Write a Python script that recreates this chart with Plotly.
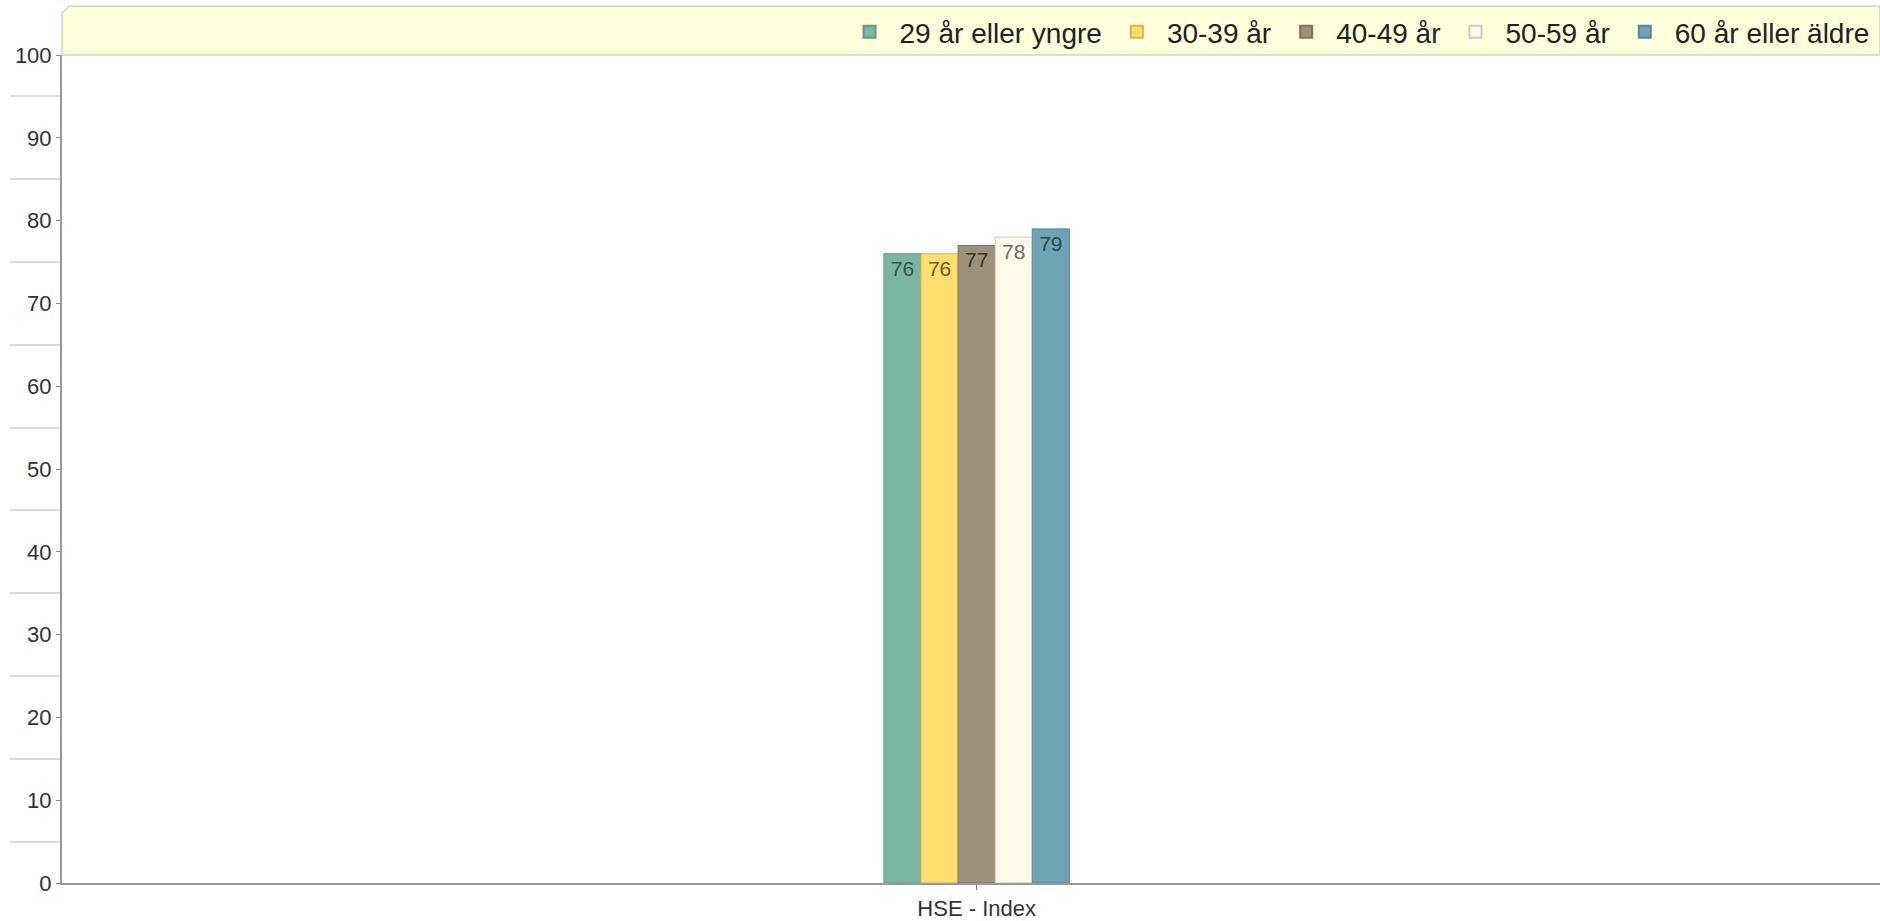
import plotly.graph_objects as go

categories = ["HSE - Index"]
series_names = ["29 år eller yngre", "30-39 år", "40-49 år", "50-59 år", "60 år eller äldre"]
series_values = [[76], [76], [77], [78], [79]]
y_ticks = [0, 10, 20, 30, 40, 50, 60, 70, 80, 90, 100]

bar_colors = ["#7BB5A0", "#FDDE6E", "#9E917A", "#FEF9E8", "#6EA3B3"]
line_colors = ["#5E9C86", "#D9B84A", "#7E735E", "#CFCBBE", "#55899A"]
text_colors = ["#2F5A4C", "#6E5E1E", "#3A3326", "#6E6C66", "#2A4752"]

fig = go.Figure()
for name, vals, c, lc, tc in zip(series_names, series_values, bar_colors, line_colors, text_colors):
    fig.add_trace(go.Bar(
        x=categories, y=vals, name=name,
        marker=dict(color=c, line=dict(color=lc, width=1)),
        text=[str(v) for v in vals], textposition="inside", insidetextanchor="end",
        textangle=0,
        textfont=dict(color=tc, size=21, family="Liberation Sans, Arial, sans-serif"),
        cliponaxis=False,
    ))

W, H = 1880, 921
mt, mb, ml, mr = 55, 34, 62, 0
ph = H - mt - mb
band_top = 1 + (mt - 6) / ph
cut = 7 / ph
cutx = 7 / (W - ml - mr)

fig.update_layout(
    width=W, height=H,
    margin=dict(l=ml, r=mr, t=mt, b=mb, pad=0),
    paper_bgcolor="white", plot_bgcolor="white",
    barmode="group", bargap=0.898, bargroupgap=0,
    font=dict(family="Liberation Sans, Arial, sans-serif", color="#333333"),
    showlegend=True,
    legend=dict(orientation="h", x=0.997, xanchor="right", y=1 + 23 / ph, yanchor="middle",
                bgcolor="rgba(0,0,0,0)", font=dict(size=28, color="#222222"),
                itemsizing="constant", itemwidth=50, tracegroupgap=0, traceorder="normal"),
    shapes=[dict(type="path", xref="paper", yref="paper",
                 path=f"M 0,1 L 0,{band_top - cut} L {cutx},{band_top} L 1,{band_top} L 1,1 Z",
                 fillcolor="#FFFFDB", line=dict(color="#D4D4C8", width=1.5), layer="below")],
    xaxis=dict(range=[-0.5031, 0.4969], showline=True, linecolor="#9A9A9A", linewidth=2,
               ticks="outside", ticklen=5, tickcolor="#777777", showgrid=False,
               tickfont=dict(size=22, color="#333333"), fixedrange=True),
    yaxis=dict(range=[0, 100], tickvals=y_ticks, showline=True, linecolor="#9A9A9A", linewidth=2,
               ticks="outside", ticklen=4, tickcolor="#888888", showgrid=False, zeroline=False,
               tickfont=dict(size=22, color="#333333"),
               minor=dict(tick0=5, dtick=10, ticks="outside", ticklen=50, tickcolor="#DADADA", tickwidth=1.5),
               fixedrange=True),
)

fig.write_html("out.html", config={"displayModeBar": False},
               post_script="document.body.style.margin='0';document.body.style.overflow='hidden';")
